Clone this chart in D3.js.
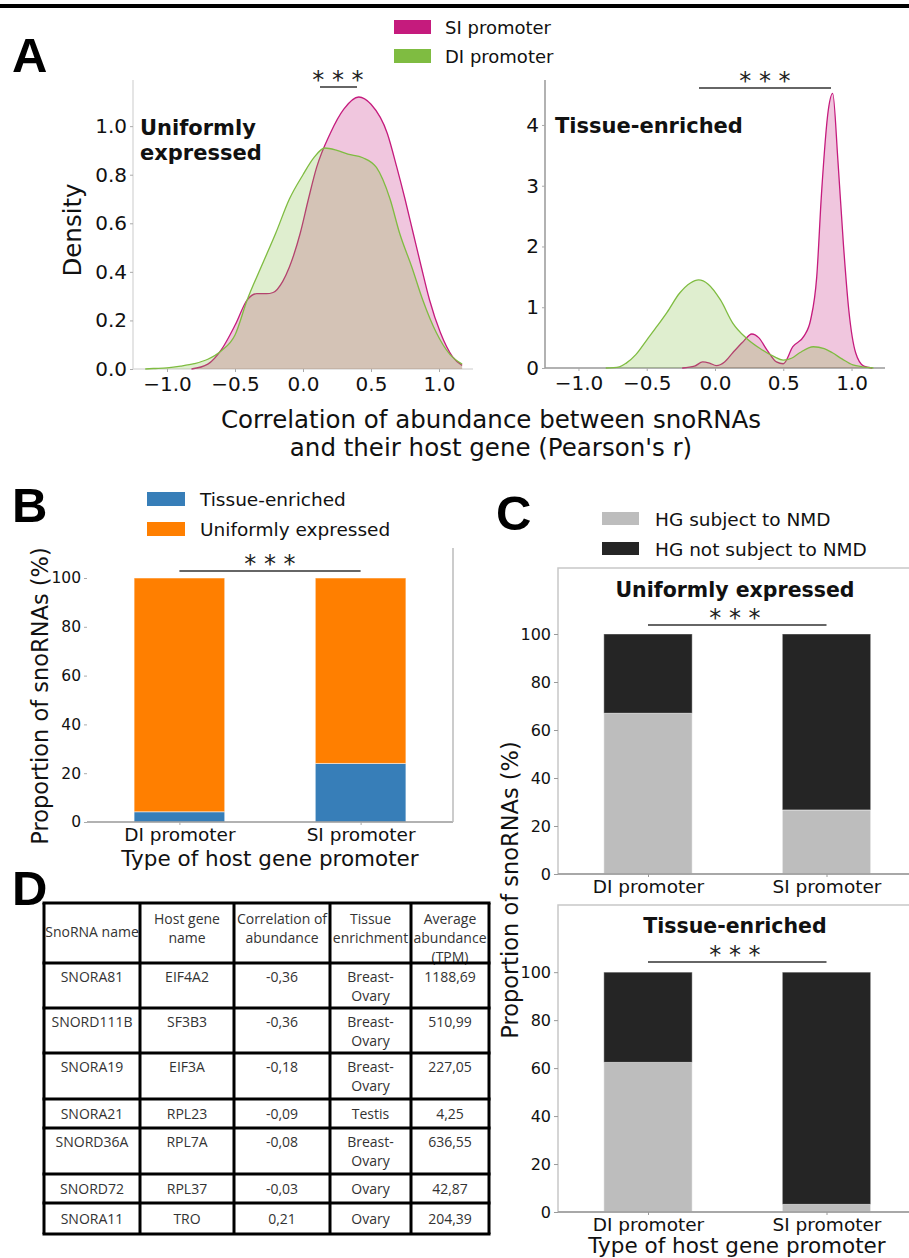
<!DOCTYPE html>
<html><head><meta charset="utf-8">
<script src="https://cdn.jsdelivr.net/npm/d3@7"></script>
<style>
body{margin:0;background:#fff}
svg{display:block}
text{font-family:"DejaVu Sans",sans-serif;fill:#111}
</style>
</head><body>
<svg id="c" width="909" height="1258"></svg>
<script>
// ---------------- DATA ----------------
// Panel A – density curves (Pearson's r vs density)
const uniDI_x = [-1.16,-1.1,-1.0,-0.9,-0.8,-0.7,-0.6,-0.5,-0.41,-0.3,-0.2,-0.1,0.0,0.08,0.16,0.25,0.33,0.44,0.54,0.64,0.71,0.80,0.88,0.98,1.08,1.17];
const uniDI_y = [0,0.002,0.005,0.012,0.022,0.04,0.075,0.14,0.285,0.43,0.56,0.70,0.80,0.87,0.91,0.90,0.885,0.87,0.83,0.70,0.56,0.42,0.285,0.15,0.06,0.02];
const uniSI_x = [-0.82,-0.7,-0.6,-0.5,-0.41,-0.34,-0.27,-0.22,-0.15,-0.1,-0.02,0.04,0.10,0.20,0.30,0.41,0.50,0.62,0.69,0.75,0.81,0.87,0.93,1.01,1.1,1.17];
const uniSI_y = [0,0.02,0.08,0.18,0.285,0.31,0.31,0.315,0.36,0.42,0.56,0.70,0.83,0.97,1.07,1.12,1.09,0.97,0.83,0.70,0.56,0.42,0.285,0.15,0.05,0.015];
const teDI_x = [-0.80,-0.70,-0.65,-0.58,-0.50,-0.42,-0.35,-0.26,-0.18,-0.12,-0.05,0.04,0.13,0.23,0.33,0.43,0.50,0.56,0.62,0.72,0.80,0.86,0.93,1.01,1.08,1.16];
const teDI_y = [0,0.02,0.08,0.22,0.46,0.70,0.92,1.23,1.40,1.45,1.38,1.12,0.74,0.49,0.32,0.19,0.13,0.16,0.25,0.35,0.32,0.25,0.15,0.05,0.02,0];
const teSI_x = [-0.24,-0.15,-0.09,-0.04,0.01,0.07,0.13,0.20,0.27,0.32,0.38,0.45,0.50,0.57,0.65,0.70,0.745,0.78,0.83,0.862,0.90,0.94,0.98,1.03,1.09,1.15];
const teSI_y = [0,0.03,0.10,0.08,0.04,0.10,0.25,0.42,0.56,0.50,0.30,0.10,0.07,0.35,0.52,0.79,1.50,2.87,4.25,4.52,3.42,2.05,0.95,0.25,0.03,0];
const densXTicks = [-1.0,-0.5,0.0,0.5,1.0];
const uniYTicks = [0,0.2,0.4,0.6,0.8,1.0];
const teYTicks = [0,1,2,3,4];
const promoterLegend = ["SI promoter","DI promoter"];

// Panel B – proportion of tissue-enriched vs uniformly expressed
const promoters = ["DI promoter","SI promoter"];
const bTissue = [4.2, 24.0];
const bUniform = [95.8, 76.0];
const bLegend = ["Tissue-enriched","Uniformly expressed"];
const pctTicks = [0,20,40,60,80,100];

// Panel C – NMD status of host genes
const cUniNMD = [67.0, 26.7];
const cUniNotNMD = [33.0, 73.3];
const cTeNMD = [62.4, 3.2];
const cTeNotNMD = [37.6, 96.8];
const cLegend = ["HG subject to NMD","HG not subject to NMD"];

// Panel D – table
const tHeader = [["SnoRNA name"],["Host gene","name"],["Correlation of","abundance"],["Tissue","enrichment"],["Average","abundance","(TPM)"]];
const tSno = ["SNORA81","SNORD111B","SNORA19","SNORA21","SNORD36A","SNORD72","SNORA11"];
const tHost = ["EIF4A2","SF3B3","EIF3A","RPL23","RPL7A","RPL37","TRO"];
const tCorr = ["-0,36","-0,36","-0,18","-0,09","-0,08","-0,03","0,21"];
const tTissue = [["Breast-","Ovary"],["Breast-","Ovary"],["Breast-","Ovary"],["Testis"],["Breast-","Ovary"],["Ovary"],["Ovary"]];
const tAbund = ["1188,69","510,99","227,05","4,25","636,55","42,87","204,39"];

// ---------------- COLORS ----------------
const PINK="#c51b7d", GREEN="#7fbc41", BLUE="#377eb8", ORANGE="#ff7f00", LGRAY="#bdbdbd", DGRAY="#252525";

const svg = d3.select("#c");

// top black rule
svg.append("rect").attr("x",0).attr("y",4).attr("width",909).attr("height",4).attr("fill","#000");

function panelLetter(t,x,y){
  svg.append("text").attr("x",x).attr("y",y).text(t)
    .style("font-family","'Liberation Sans',Arial,sans-serif").style("font-weight","bold").style("font-size","49px").style("fill","#000");
}
function stars(cx, lineY, x1, x2){
  svg.append("line").attr("x1",x1).attr("x2",x2).attr("y1",lineY).attr("y2",lineY).attr("stroke","#333").attr("stroke-width",1.5);
  svg.append("text").attr("x",cx).attr("y",lineY+1).attr("text-anchor","middle").style("font-size","24px").style("fill","#222").text("* * *");
}

// ---------------- PANEL A ----------------
function densityPanel(o){
  const x = d3.scaleLinear().domain(o.xd).range(o.xr);
  const y = d3.scaleLinear().domain(o.yd).range(o.yr);
  const g = svg.append("g");
  g.append("line").attr("x1",o.xr[0]).attr("x2",o.xr[0]).attr("y1",o.yr[0]).attr("y2",o.yr[1]).attr("stroke",o.spine).attr("stroke-width",1.5);
  g.append("line").attr("x1",o.xr[0]).attr("x2",o.xr[1]).attr("y1",o.yr[0]).attr("y2",o.yr[0]).attr("stroke",o.spine).attr("stroke-width",1.5);
  const xa = g.append("g").attr("transform",`translate(0,${o.yr[0]})`)
    .call(d3.axisBottom(x).tickValues(densXTicks).tickFormat(d3.format(".1f")).tickSize(3).tickPadding(5));
  const ya = g.append("g").attr("transform",`translate(${o.xr[0]},0)`)
    .call(d3.axisLeft(y).tickValues(o.yt).tickFormat(o.yf).tickSize(3).tickPadding(3));
  [xa,ya].forEach(a=>{a.select(".domain").remove(); a.selectAll("line").attr("stroke","#aaa");
    a.selectAll("text").style("font-size","20px").style("fill","#111").style("font-family","'DejaVu Sans',sans-serif");});
  const area = d3.area().x(d=>x(d[0])).y0(y(0)).y1(d=>y(d[1])).curve(d3.curveMonotoneX);
  const line = d3.line().x(d=>x(d[0])).y(d=>y(d[1])).curve(d3.curveMonotoneX);
  o.series.forEach(s=>{
    const pts = s.xs.map((v,i)=>[v,s.ys[i]]);
    g.append("path").datum(pts).attr("d",area).attr("fill",s.c).attr("fill-opacity",0.25);
    g.append("path").datum(pts).attr("d",line).attr("fill","none").attr("stroke",s.c).attr("stroke-width",1.3);
  });
  return {x,y};
}
densityPanel({xd:[-1.25,1.25], xr:[133,473], yd:[0,1.19], yr:[369,80], yt:uniYTicks, yf:d3.format(".1f"), spine:"#dcdcdc",
  series:[{xs:uniSI_x,ys:uniSI_y,c:PINK},{xs:uniDI_x,ys:uniDI_y,c:GREEN}]});
densityPanel({xd:[-1.245,1.245], xr:[545,885], yd:[0,4.74], yr:[368,80], yt:teYTicks, yf:d3.format("d"), spine:"#999",
  series:[{xs:teSI_x,ys:teSI_y,c:PINK},{xs:teDI_x,ys:teDI_y,c:GREEN}]});

const ta = svg.append("text").attr("x",140).attr("y",135).style("font-weight","bold").style("font-size","21px");
ta.append("tspan").attr("x",140).text("Uniformly");
ta.append("tspan").attr("x",140).attr("y",160).text("expressed");
svg.append("text").attr("x",555).attr("y",133).style("font-weight","bold").style("font-size","21px").text("Tissue-enriched");
stars(338, 87, 320, 357);
stars(765, 88, 699, 831);
svg.append("text").attr("transform","translate(81,230) rotate(-90)").attr("text-anchor","middle").style("font-size","24.5px").text("Density");
const xl = svg.append("text").attr("text-anchor","middle").style("font-size","24.5px");
xl.append("tspan").attr("x",491).attr("y",428).text("Correlation of abundance between snoRNAs");
xl.append("tspan").attr("x",491).attr("y",456).text("and their host gene (Pearson's r)");
[PINK,GREEN].forEach((c,i)=>{
  svg.append("rect").attr("x",394).attr("y",20+i*29).attr("width",37).attr("height",14).attr("fill",c);
  svg.append("text").attr("x",445).attr("y",34+i*29).style("font-size","18px").text(promoterLegend[i]);
});
panelLetter("A",12,72);

// ---------------- PANEL B ----------------
(function(){
  const x = d3.scaleLinear().domain([-0.51,1.51]).range([87,453]);
  const y = d3.scaleLinear().domain([0,112.3]).range([822,548]);
  const bw = 0.5;
  promoters.forEach((p,i)=>{
    svg.append("rect").attr("x",x(i-bw/2)).attr("width",x(bw)-x(0)).attr("y",y(bTissue[i])).attr("height",y(0)-y(bTissue[i]))
      .attr("fill",BLUE).attr("stroke","#fff").attr("stroke-opacity",0.5).attr("stroke-width",1);
    svg.append("rect").attr("x",x(i-bw/2)).attr("width",x(bw)-x(0)).attr("y",y(bTissue[i]+bUniform[i])).attr("height",y(0)-y(bUniform[i]))
      .attr("fill",ORANGE).attr("stroke","#fff").attr("stroke-opacity",0.5).attr("stroke-width",1);
  });
  svg.append("line").attr("x1",87).attr("x2",453).attr("y1",822).attr("y2",822).attr("stroke","#999").attr("stroke-width",1.5);
  svg.append("line").attr("x1",453).attr("x2",453).attr("y1",548).attr("y2",822).attr("stroke","#bbb").attr("stroke-width",1.5);
  const ya = svg.append("g").attr("transform","translate(87,0)").call(d3.axisLeft(y).tickValues(pctTicks).tickSize(3).tickPadding(3));
  const xa = svg.append("g").attr("transform","translate(0,822)").call(d3.axisBottom(x).tickValues([0,1]).tickFormat(i=>promoters[i]).tickSize(3).tickPadding(3));
  ya.selectAll("text").style("font-size","15.5px");
  xa.selectAll("text").style("font-size","18.5px");
  [xa,ya].forEach(a=>{a.select(".domain").remove(); a.selectAll("line").attr("stroke","#aaa");
    a.selectAll("text").style("fill","#111").style("font-family","'DejaVu Sans',sans-serif");});
  svg.append("text").attr("x",270).attr("y",866).attr("text-anchor","middle").style("font-size","21.5px").text("Type of host gene promoter");
  svg.append("text").attr("transform","translate(48,696) rotate(-90)").attr("text-anchor","middle").style("font-size","22.5px").text("Proportion of snoRNAs (%)");
  stars(270, 571, x(0), x(1));
  [BLUE,ORANGE].forEach((c,i)=>{
    svg.append("rect").attr("x",147).attr("y",492+i*30).attr("width",38).attr("height",14).attr("fill",c);
    svg.append("text").attr("x",200).attr("y",506+i*30).style("font-size","18.5px").text(bLegend[i]);
  });
})();
panelLetter("B",12,522);

// ---------------- PANEL C ----------------
function nmdPanel(top, bottom, ymax, nmd, notNmd, title, titleY, lineY){
  const x = d3.scaleLinear().domain([-0.5,1.5]).range([558.75,915.75]);
  const y = d3.scaleLinear().domain([0,ymax]).range([bottom,top]);
  const bw = 0.495;
  promoters.forEach((p,i)=>{
    svg.append("rect").attr("x",x(i-bw/2)).attr("width",x(bw)-x(0)).attr("y",y(nmd[i])).attr("height",y(0)-y(nmd[i]))
      .attr("fill",LGRAY).attr("stroke","#fff").attr("stroke-opacity",0.5).attr("stroke-width",1);
    svg.append("rect").attr("x",x(i-bw/2)).attr("width",x(bw)-x(0)).attr("y",y(nmd[i]+notNmd[i])).attr("height",y(0)-y(notNmd[i]))
      .attr("fill",DGRAY).attr("stroke","#fff").attr("stroke-opacity",0.4).attr("stroke-width",1);
  });
  svg.append("rect").attr("x",558).attr("y",top).attr("width",360).attr("height",bottom-top)
    .attr("fill","none").attr("stroke","#c8c8c8").attr("stroke-width",1.5);
  svg.append("line").attr("x1",558).attr("x2",918).attr("y1",bottom).attr("y2",bottom).attr("stroke","#999").attr("stroke-width",1.5);
  const ya = svg.append("g").attr("transform","translate(558,0)").call(d3.axisLeft(y).tickValues(pctTicks).tickSize(4).tickPadding(3));
  const xa = svg.append("g").attr("transform",`translate(0,${bottom})`).call(d3.axisBottom(x).tickValues([0,1]).tickFormat(i=>promoters[i]).tickSize(3).tickPadding(3));
  ya.selectAll("text").style("font-size","16px");
  xa.selectAll("text").style("font-size","18.5px");
  [xa,ya].forEach(a=>{a.select(".domain").remove(); a.selectAll("line").attr("stroke","#999");
    a.selectAll("text").style("fill","#111").style("font-family","'DejaVu Sans',sans-serif");});
  svg.append("text").attr("x",735).attr("y",titleY).attr("text-anchor","middle").style("font-weight","bold").style("font-size","20.5px").text(title);
  stars(735, lineY, x(0), x(1));
}
nmdPanel(568, 874, 127.5, cUniNMD, cUniNotNMD, "Uniformly expressed", 597, 625);
nmdPanel(905, 1212, 128, cTeNMD, cTeNotNMD, "Tissue-enriched", 933, 962);
svg.append("text").attr("x",737).attr("y",1253).attr("text-anchor","middle").style("font-size","21.5px").text("Type of host gene promoter");
svg.append("text").attr("transform","translate(518,890) rotate(-90)").attr("text-anchor","middle").style("font-size","22.5px").text("Proportion of snoRNAs (%)");
[LGRAY,DGRAY].forEach((c,i)=>{
  svg.append("rect").attr("x",602).attr("y",512+i*30).attr("width",37).attr("height",13).attr("fill",c);
  svg.append("text").attr("x",655).attr("y",526+i*29.5).style("font-size","18.5px").text(cLegend[i]);
});
panelLetter("C",496,530);

// ---------------- PANEL D (table) ----------------
(function(){
  const colX = [44,140,234,330,411,489];
  const rowY = [903,963,1008,1053,1099,1128,1174,1203,1234];
  const g = svg.append("g");
  const cx = i => (colX[i]+colX[i+1])/2;
  const txt = (x,y,s)=>g.append("text").attr("x",x).attr("y",y).attr("text-anchor","middle")
    .style("fill","#333").style("font-family","'Open Sans',sans-serif").style("font-size","14px").text(s);
  tHeader.forEach((lines,i)=>{
    const base = lines.length===1 ? 937 : 924;
    lines.forEach((l,k)=>txt(cx(i), base+k*19, l));
  });
  const rows = tSno.map((s,i)=>[[s],[tHost[i]],[tCorr[i]],tTissue[i],[tAbund[i]]]);
  rows.forEach((r,ri)=>{
    const top = rowY[ri+1];
    const h = rowY[ri+2]-top;
    r.forEach((lines,ci)=>{
      lines.forEach((l,k)=>{
        const yb = h<40 ? top + h/2 + 5 : top + 19 + k*19;
        txt(cx(ci), yb, l);
      });
    });
  });
  rowY.forEach(yv=>{
    g.append("line").attr("x1",colX[0]-1.5).attr("x2",colX[5]+1.5).attr("y1",yv).attr("y2",yv).attr("stroke","#000").attr("stroke-width",3);
  });
  colX.forEach(xv=>{
    g.append("line").attr("x1",xv).attr("x2",xv).attr("y1",rowY[0]).attr("y2",rowY[8]).attr("stroke","#000").attr("stroke-width",3);
  });
})();
panelLetter("D",12,905);
</script>
</body></html>
